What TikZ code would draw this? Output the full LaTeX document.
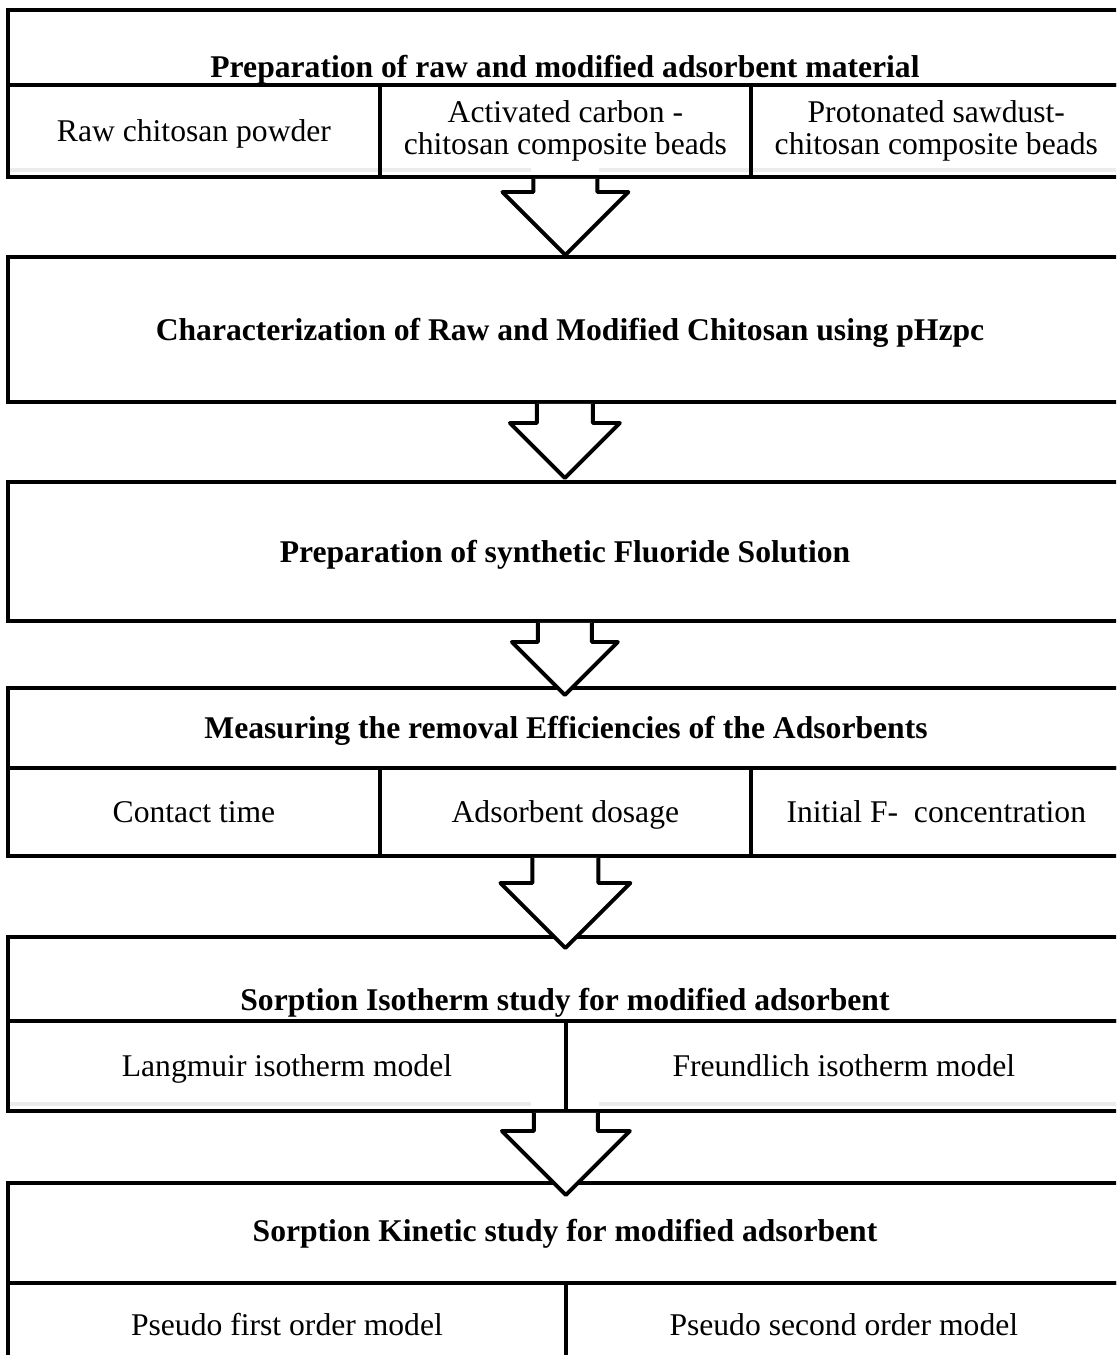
\documentclass[tikz,border=0pt]{standalone}
\usepackage{fontspec}
\setmainfont{Liberation Serif}
\usetikzlibrary{calc}

\newcommand{\cstrut}{\rule[-4pt]{0pt}{20pt}}

\tikzset{
  box/.style={draw, line width=2.2pt, inner sep=0pt, outer sep=0pt, anchor=north west, minimum width=22.28cm},
  cell/.style={draw, line width=2.2pt, inner sep=0pt, outer sep=0pt, anchor=north west, align=center,
    font=\fontsize{18}{18}\selectfont, execute at begin node=\cstrut, execute at end node=\cstrut},
  title/.style={font=\fontsize{18}{21}\selectfont\bfseries, text height=16pt, text depth=4pt},
  fatarrow/.style={draw, fill=white, line width=2.2pt, line join=round},
  shadeline/.style={gray!15, line width=2.5pt}
}

% from, to, shaft half width, head half width, neck, tip shift
\newcommand{\flowarrow}[6]{%
  \draw[fatarrow] ($(#1)+(-#3,2)$) -- ($(#1)+(-#3,#5)$) -- ($(#1)+(-#4,#5)$)
    -- ($(#1 |- #2)+(0,#6)$) -- ($(#1)+(#4,#5)$) -- ($(#1)+(#3,#5)$) -- ($(#1)+(#3,2)$);
}

\begin{document}
\begin{tikzpicture}[x=0.02cm,y=-0.02cm]

\useasboundingbox (0,0) rectangle (1116,1355);
\clip (0,0) rectangle (1116,1355);

% faint shadows
\draw[shadeline] (10,170) -- (531,170);
\draw[shadeline] (599,170) -- (1116,170);
\draw[shadeline] (10,1104) -- (531,1104);
\draw[shadeline] (599,1104) -- (1116,1104);

% -------- Step 1: adsorbent material --------
\node[box, minimum height=1.5cm] (b1) at (8,10) {};
\node[cell, minimum width=7.44cm, minimum height=1.84cm] (b1c1) at (b1.south west) {Raw chitosan powder};
\node[cell, minimum width=7.42cm, minimum height=1.84cm] (b1c2) at (b1c1.north east) {Activated carbon -\\chitosan composite beads};
\node[cell, minimum width=7.42cm, minimum height=1.84cm] (b1c3) at (b1c2.north east) {Protonated sawdust-\\chitosan composite beads};
\node[title] (t1) at (565,67) {Preparation of raw and modified adsorbent material};

% -------- Step 2: pHzpc --------
\node[box, minimum height=2.9cm] (b2) at (8,257) {};
\node[title] (t2) at (570,330) {Characterization of Raw and Modified Chitosan using pHzpc};

% -------- Step 3: fluoride solution --------
\node[box, minimum height=2.78cm] (b3) at (8,482) {};
\node[title] (t3) at (565,552) {Preparation of synthetic Fluoride Solution};

% -------- Step 4: removal efficiencies --------
\node[box, minimum height=1.6cm] (b4) at (8,688) {};
\node[cell, minimum width=7.44cm, minimum height=1.76cm] (b4c1) at (b4.south west) {Contact time};
\node[cell, minimum width=7.42cm, minimum height=1.76cm] (b4c2) at (b4c1.north east) {Adsorbent dosage};
\node[cell, minimum width=7.42cm, minimum height=1.76cm] (b4c3) at (b4c2.north east) {Initial F-\ \ concentration};
\node[title] (t4) at (566,728) {Measuring the removal Efficiencies of the Adsorbents};

% -------- Step 5: isotherms --------
\node[box, minimum height=1.68cm] (b5) at (8,937) {};
\node[cell, minimum width=11.16cm, minimum height=1.8cm] (b5c1) at (b5.south west) {Langmuir isotherm model};
\node[cell, minimum width=11.12cm, minimum height=1.8cm] (b5c2) at (b5c1.north east) {Freundlich isotherm model};
\node[title] (t5) at (565,1000) {Sorption Isotherm study for modified adsorbent};

% -------- Step 6: kinetics --------
\node[box, minimum height=2cm] (b6) at (8,1183) {};
\node[cell, minimum width=11.16cm, minimum height=1.68cm] (b6c1) at (b6.south west) {Pseudo first order model};
\node[cell, minimum width=11.12cm, minimum height=1.68cm] (b6c2) at (b6c1.north east) {Pseudo second order model};
\node[title] (t6) at (565,1231) {Sorption Kinetic study for modified adsorbent};

% ---- Arrows ----
\flowarrow{b1c2.south}{b2.north}{32}{63}{15}{-2}
\flowarrow{b2.south}{b3.north}{28}{55}{21}{-4}
\flowarrow{b3.south}{b4.north}{27}{53}{21}{7}
\flowarrow{b4c2.south}{b5.north}{33}{65}{27}{11}
\flowarrow{b5c1.south east}{b6.north}{32}{64}{20}{12}

\end{tikzpicture}
\end{document}
